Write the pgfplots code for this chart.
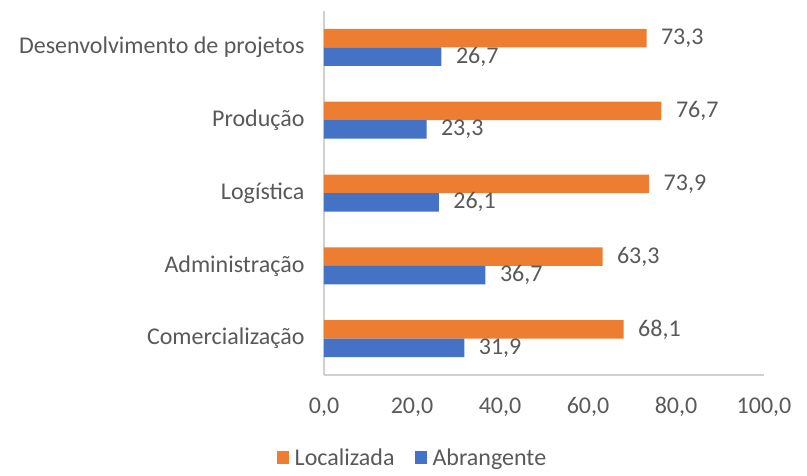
\documentclass[border=0pt]{standalone}
\usepackage{pgfplots}
\pgfplotsset{compat=1.18}
\usepackage{fontspec}
\setmainfont{Carlito}
\definecolor{orng}{HTML}{ED7D31}
\definecolor{blu}{HTML}{4472C4}
\definecolor{txt}{HTML}{595959}
\definecolor{axl}{HTML}{D0D0D0}
\newcommand\cf{\fontsize{24}{28}\selectfont}
\begin{document}
\begin{tikzpicture}
\path[use as bounding box] (0,0) rectangle (807pt,475pt);
\begin{axis}[
 at={(324pt,100pt)}, anchor=south west,
 scale only axis, width=440pt, height=364pt,
 xbar, bar width=18.5pt,
 xmin=0, xmax=100, ymin=-0.5, ymax=4.5,
 xtick={0,20,...,100},
 ytick={0,1,2,3,4},
 yticklabels={Comercialização,Administração,Logística,Produção,Desenvolvimento de projetos},
 axis x line=bottom, axis y line=left,
 axis line style={-, draw=axl, line width=1.6pt},
 major tick length=0pt,
 /pgf/number format/.cd, fixed, fixed zerofill, precision=1, use comma, assume math mode=true,
 /pgfplots/.cd,
 ticklabel style={font=\cf, text=txt},
 yticklabel style={xshift=-16pt},
 xticklabel style={yshift=-19pt},
 point meta=x,
 nodes near coords,
 nodes near coords style={font=\cf, text=txt, anchor=west, xshift=11pt},
 legend style={at={(0.201,-0.228)}, anchor=center, draw=none, fill=none, font=\cf, text=txt,
   legend columns=2, /tikz/every even column/.append style={column sep=18pt}},
 legend image code/.code={\fill[#1] (0pt,-6pt) rectangle (12.5pt,6.5pt); \path (0pt,0pt) -- (16pt,0pt);},
]
\addplot[fill=orng, draw=none, bar shift=9.25pt] coordinates {(68.1,0) (63.3,1) (73.9,2) (76.7,3) (73.3,4)};
\addplot[fill=blu, draw=none, bar shift=-9.25pt] coordinates {(31.9,0) (36.7,1) (26.1,2) (23.3,3) (26.7,4)};
\legend{Localizada,Abrangente}
\end{axis}
\end{tikzpicture}
\end{document}
